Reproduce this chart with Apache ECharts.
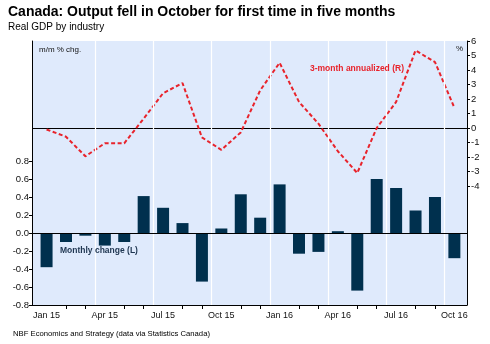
<!DOCTYPE html>
<html><head><meta charset="utf-8">
<script src="https://cdn.jsdelivr.net/npm/echarts@6/dist/echarts.min.js"></script>
<style>html,body{margin:0;padding:0;background:#fff}#c{width:490px;height:344px}</style>
</head><body><div id="c"></div>
<script>
const months = ['Jan 15','Feb 15','Mar 15','Apr 15','May 15','Jun 15','Jul 15','Aug 15','Sep 15','Oct 15','Nov 15','Dec 15',
                'Jan 16','Feb 16','Mar 16','Apr 16','May 16','Jun 16','Jul 16','Aug 16','Sep 16','Oct 16'];
const monthlyChange = [-0.38,-0.10,-0.03,-0.14,-0.10,0.41,0.28,0.11,-0.54,0.05,0.43,0.17,
                       0.54,-0.23,-0.21,0.02,-0.64,0.60,0.50,0.25,0.40,-0.28];
const annualized3m = [-0.1,-0.6,-1.95,-1.05,-1.05,0.65,2.4,3.1,-0.65,-1.5,-0.3,2.6,
                      4.5,1.8,0.3,-1.6,-3.1,0.0,1.8,5.35,4.55,1.4];
const xLabelIdx = [0,3,6,9,12,15,18,21];
const xTickIdx = [1,2,4,5,7,8,10,11,13,14,16,17,19,20];
const quarterBounds = [2.5,5.5,8.5,11.5,14.5,17.5,20.5];
const leftTicks = [-0.8,-0.6,-0.4,-0.2,0,0.2,0.4,0.6,0.8];
const rightTicks = [-4,-3,-2,-1,0,1,2,3,4,5,6];

const FONT = "'Liberation Sans', Arial, sans-serif";
const chart = echarts.init(document.getElementById('c'), null, {renderer:'canvas'});
const noSym = ['none','none'];
chart.setOption({
  animation: false,
  backgroundColor: '#ffffff',
  textStyle: {fontFamily: FONT},
  grid: {left: 32, right: 23, top: 41, bottom: 39, show: true, backgroundColor: '#dfeafc', borderWidth: 0, containLabel: false},
  xAxis: {
    type: 'value', min: -0.75, max: 21.65,
    axisLine: {show: true, onZero: false, lineStyle: {color: '#000', width: 1}},
    axisTick: {show: true, length: 4, customValues: xTickIdx, lineStyle: {color: '#000'}},
    axisLabel: {customValues: xLabelIdx, formatter: v => months[Math.round(v)], color: '#111', fontSize: 9, fontFamily: FONT, margin: 6},
    splitLine: {show: false}
  },
  yAxis: [
    {
      type: 'value', min: -0.8, max: 2.133, interval: 0.2, position: 'left',
      axisLine: {show: true, onZero: false, lineStyle: {color: '#000', width: 1}},
      axisTick: {show: true, length: 3, customValues: leftTicks, lineStyle: {color: '#000'}},
      axisLabel: {customValues: leftTicks, formatter: v => v.toFixed(1), color: '#111', fontSize: 9.5, fontFamily: FONT, margin: 3},
      splitLine: {show: false}
    },
    {
      type: 'value', min: -12.2, max: 6, interval: 1, position: 'right',
      axisLine: {show: true, onZero: false, lineStyle: {color: '#000', width: 1}},
      axisTick: {show: true, length: 3, customValues: rightTicks, lineStyle: {color: '#000'}},
      axisLabel: {customValues: rightTicks, formatter: v => String(v), color: '#111', fontSize: 9.5, fontFamily: FONT, margin: 4},
      splitLine: {show: false}
    }
  ],
  series: [
    {
      type: 'bar', name: 'Monthly change (L)', xAxisIndex: 0, yAxisIndex: 0, z: 2,
      barWidth: 12,
      itemStyle: {color: '#00304e'},
      data: monthlyChange.map((v, i) => [i, v]),
      markLine: {
        silent: true, symbol: noSym, label: {show: false}, animation: false,
        data: quarterBounds.map(b => ({xAxis: b, lineStyle: {color: '#ffffff', width: 1.2, type: 'solid'}}))
          .concat([{yAxis: 0, lineStyle: {color: '#000', width: 1, type: 'solid'}}])
      }
    },
    {
      type: 'line', name: '3-month annualized (R)', xAxisIndex: 0, yAxisIndex: 1, z: 4,
      symbol: 'none', smooth: false,
      lineStyle: {color: '#e8232b', width: 2, type: [4, 2.5]},
      data: annualized3m.map((v, i) => [i, v]),
      markLine: {
        silent: true, symbol: noSym, label: {show: false}, animation: false, z: 3,
        data: [{yAxis: 0, lineStyle: {color: '#000', width: 1, type: 'solid'}}]
      }
    }
  ],
  graphic: [
    {type: 'text', x: 8, y: 12.5, style: {text: 'Canada: Output fell in October for first time in five months', font: "bold 14px " + FONT, fill: '#000', textVerticalAlign: 'middle'}},
    {type: 'text', x: 8, y: 27, style: {text: 'Real GDP by industry', font: "10px " + FONT, fill: '#000', textVerticalAlign: 'middle'}},
    {type: 'text', x: 39, y: 49.5, z: 10, style: {text: 'm/m % chg.', font: "8px " + FONT, fill: '#111', textVerticalAlign: 'middle'}},
    {type: 'text', x: 463, y: 48.5, z: 10, style: {text: '%', font: "8px " + FONT, fill: '#111', textAlign: 'right', textVerticalAlign: 'middle'}},
    {type: 'text', x: 310, y: 69, z: 10, style: {text: '3-month annualized (R)', font: "bold 8.5px " + FONT, fill: '#e8232b', textVerticalAlign: 'middle'}},
    {type: 'text', x: 60, y: 250.5, z: 10, style: {text: 'Monthly change (L)', font: "bold 8.5px " + FONT, fill: '#1e3550', textVerticalAlign: 'middle'}},
    {type: 'text', x: 13, y: 333.5, style: {text: 'NBF Economics and Strategy (data via Statistics Canada)', font: "7.7px " + FONT, fill: '#000', textVerticalAlign: 'middle'}}
  ]
});
</script></body></html>
